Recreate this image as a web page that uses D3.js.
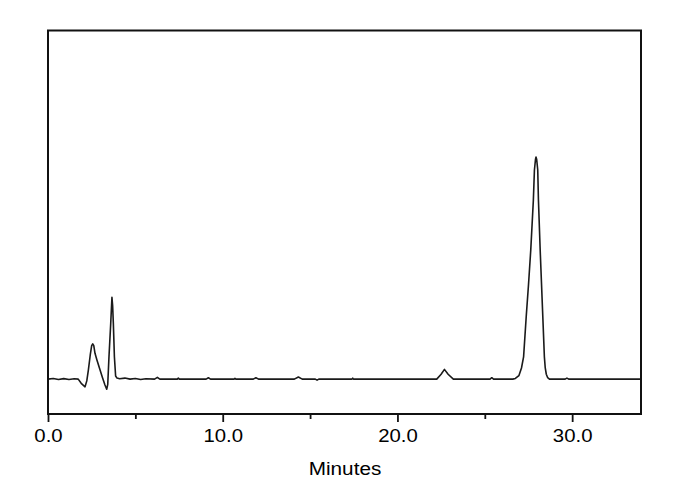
<!DOCTYPE html>
<html>
<head>
<meta charset="utf-8">
<script src="https://cdn.jsdelivr.net/npm/d3@7"></script>
<style>
html,body{margin:0;padding:0;background:#fff;}
svg{display:block;}
text{font-family:"Liberation Sans",Arial,sans-serif;fill:#000;}
</style>
</head>
<body>
<svg id="chart" width="690" height="490"></svg>
<script>
// Chromatogram trace: retention time (minutes) and detector response (arbitrary units)
const times = [0, 0.3, 0.6, 0.9, 1.2, 1.5, 1.73, 1.9, 2.12, 2.22, 2.31, 2.42, 2.5, 2.56, 2.62, 2.69, 2.8, 2.98, 3.12, 3.26, 3.36, 3.42, 3.49, 3.59, 3.66, 3.70, 3.74, 3.80, 3.87, 3.95, 4.1, 4.4, 4.7, 5.0, 5.3, 5.6, 6.1, 6.26, 6.4, 7.4, 7.46, 7.52, 9.05, 9.18, 9.3, 10.65, 10.7, 10.75, 11.75, 11.9, 12.05, 14.1, 14.33, 14.55, 15.3, 15.4, 15.5, 17.4, 17.44, 17.48, 22.25, 22.5, 22.69, 22.9, 23.2, 25.3, 25.4, 25.5, 26.6, 26.75, 26.95, 27.1, 27.22, 27.37, 27.5, 27.63, 27.78, 27.84, 27.9, 27.93, 27.97, 28.03, 28.07, 28.17, 28.32, 28.41, 28.46, 28.52, 28.6, 28.7, 29.6, 29.7, 29.8, 30.5, 33.94];
const response = [0, 0.2, -0.1, 0.15, -0.1, 0.1, 0, -1.2, -2.2, -0.5, 2.6, 7.0, 9.6, 10.1, 9.6, 7.4, 5.5, 2.6, 0.4, -1.7, -2.9, -1.5, 6.4, 16, 23.5, 21, 16, 6.4, 0.9, 0.3, 0.1, 0.3, 0, 0.2, -0.1, 0.1, 0, 0.5, 0, 0, 0.3, 0, 0, 0.4, 0, 0, 0.2, 0, 0, 0.4, 0, 0, 0.6, 0, 0, -0.3, 0, 0, 0.3, 0, 0, 1.4, 2.8, 1.4, 0, 0, 0.4, 0, 0, 0.2, 1.0, 3.2, 6.4, 17.9, 27, 37, 51.4, 60, 63.0, 63.7, 63.0, 60, 51.4, 37, 17.9, 6.4, 3.2, 1.4, 0.4, 0, 0, 0.3, 0, 0, 0];
const majorTicks = [0, 10, 20, 30];
const minorTicks = [5, 15, 25];
const xLabel = "Minutes";

const svg = d3.select("#chart");
const L = 48, R = 641, T = 30.5, B = 414;
const x = d3.scaleLinear().domain([0, 33.94]).range([L, R]);
const y = d3.scaleLinear().domain([-10, 100]).range([B, T]);

svg.append("rect").attr("width", 690).attr("height", 490).attr("fill", "#fff");

// trace
const pts = times.map((t, i) => [t, response[i]]);
svg.append("path")
  .datum(pts)
  .attr("fill", "none")
  .attr("stroke", "#1a1a1a")
  .attr("stroke-width", 1.6)
  .attr("stroke-linejoin", "round")
  .attr("d", d3.line().x(d => x(d[0])).y(d => y(d[1])));

// minor ticks
const minorAxis = svg.append("g").attr("transform", `translate(0,${B})`)
  .call(d3.axisBottom(x).tickValues(minorTicks).tickSize(5).tickFormat(""));
minorAxis.select(".domain").remove();
minorAxis.selectAll("line").attr("stroke", "#111").attr("stroke-width", 1.8);

// major ticks
const majorAxis = svg.append("g").attr("transform", `translate(0,${B})`)
  .call(d3.axisBottom(x).tickValues(majorTicks).tickSize(8).tickPadding(7).tickFormat(d3.format(".1f")));
majorAxis.select(".domain").remove();
majorAxis.selectAll("line").attr("stroke", "#111").attr("stroke-width", 1.8);
majorAxis.selectAll("text")
  .attr("font-size", 18.5)
  .attr("font-family", "'Liberation Sans', Arial, sans-serif")
  .attr("fill", "#000")
  .attr("transform", "scale(1.1,1)");

// frame
svg.append("rect")
  .attr("x", L).attr("y", T).attr("width", R - L).attr("height", B - T)
  .attr("fill", "none").attr("stroke", "#111").attr("stroke-width", 2);

// axis title
svg.append("text")
  .attr("x", 0).attr("y", 475)
  .attr("transform", "translate(345,0) scale(1.12,1)")
  .attr("text-anchor", "middle")
  .attr("font-size", 18.5)
  .text(xLabel);
</script>
</body>
</html>
